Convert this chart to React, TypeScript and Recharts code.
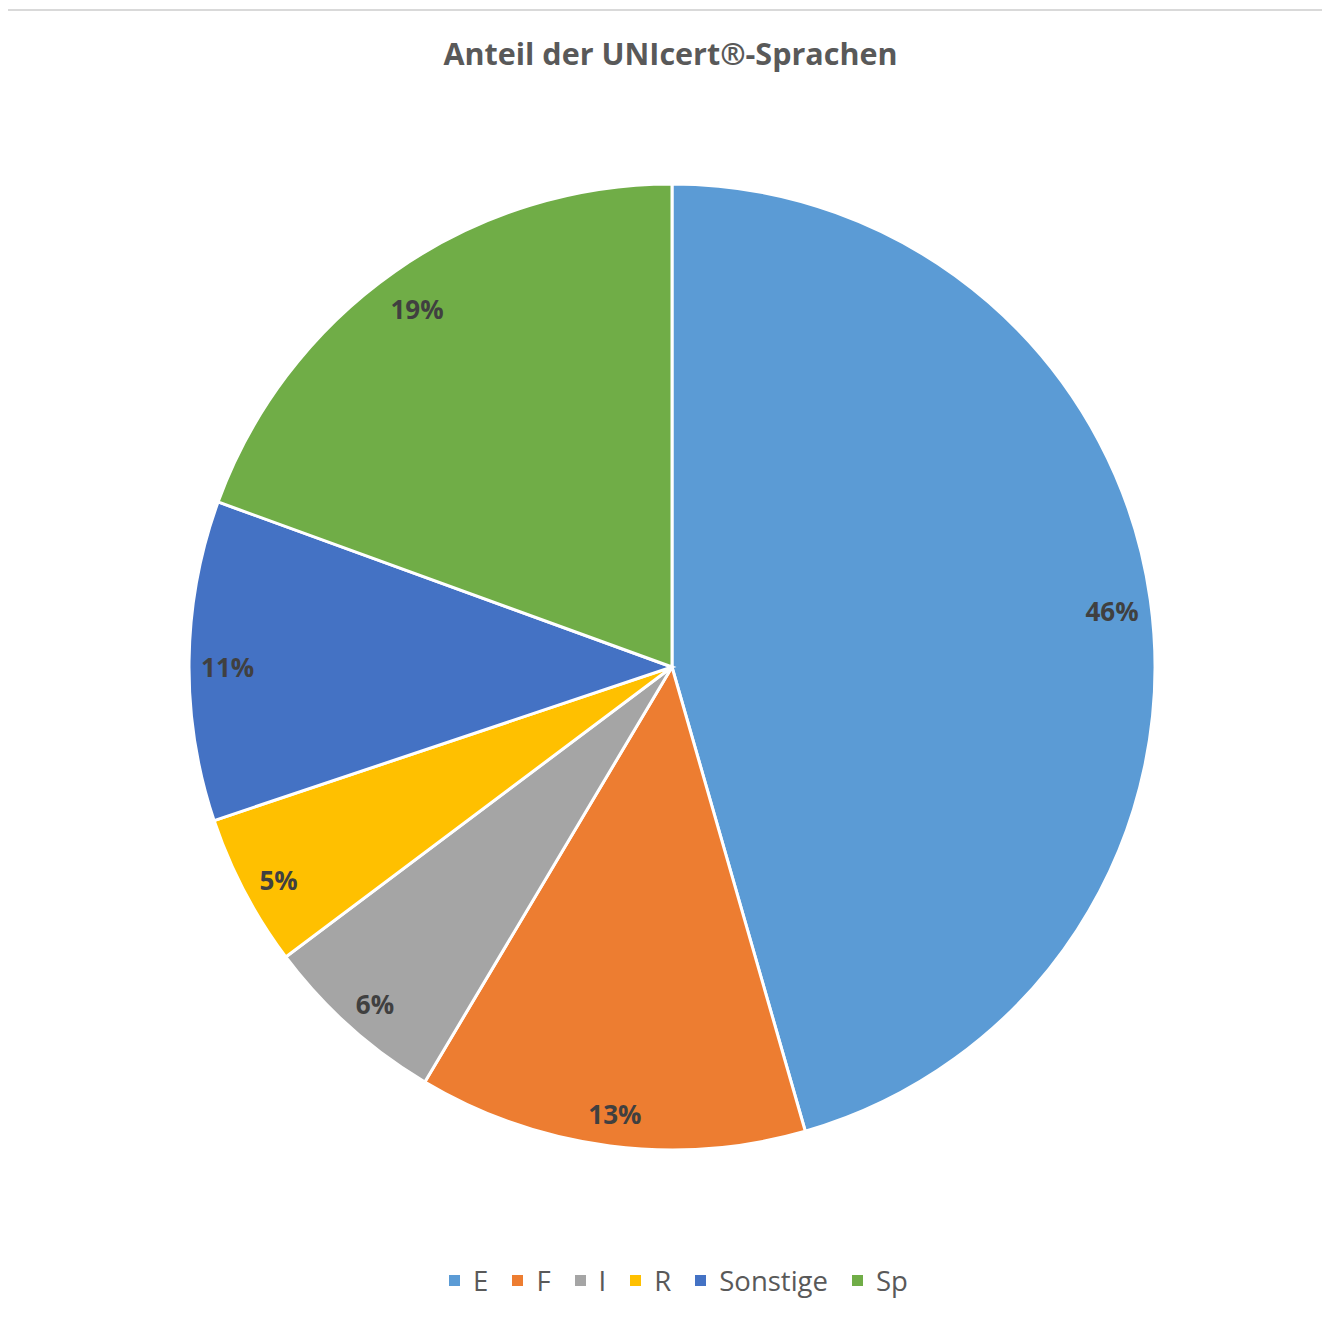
import React from 'react';
import { PieChart, Pie, Cell } from 'recharts';

const categories = ['E', 'F', 'I', 'R', 'Sonstige', 'Sp'];
const shares = [45.55, 13.0, 6.2, 5.1, 10.7, 19.45];
const colors = ['#5B9BD5', '#ED7D31', '#A5A5A5', '#FFC000', '#4472C4', '#70AD47'];
const title = 'Anteil der UNIcert®-Sprachen';

const data = categories.map((name, i) => ({ name, value: shares[i] }));

const FONT = '"Open Sans", "Liberation Sans", sans-serif';
const RADIAN = Math.PI / 180;

const renderLabel = (props: any) => {
  const { cx, cy, midAngle, outerRadius, percent } = props;
  const r = outerRadius * 0.92;
  const x = cx + r * Math.cos(-midAngle * RADIAN);
  const y = cy + r * Math.sin(-midAngle * RADIAN) + 6;
  return (
    <text
      x={x}
      y={y}
      textAnchor="middle"
      dominantBaseline="central"
      fill="#404040"
      fontFamily={FONT}
      fontWeight={700}
      fontSize={26}
    >
      {`${Math.round(percent * 100 + 1e-6)}%`}
    </text>
  );
};

export default function App() {
  return (
    <div
      style={{
        position: 'relative',
        marginLeft: -2,
        width: 1324,
        height: 1312,
        overflow: 'hidden',
        background: '#fff',
      }}
    >
      <div
        style={{
          position: 'absolute',
          left: 0,
          top: 1,
          width: 1400,
          height: 1400,
          borderLeft: '2px solid #d9d9d9',
          borderTop: '2px solid #d9d9d9',
        }}
      />
      <div
        style={{
          position: 'absolute',
          left: 0,
          width: 1329,
          top: 29.5,
          textAlign: 'center',
          fontFamily: FONT,
          fontWeight: 700,
          fontSize: 30.5,
          lineHeight: 1,
          color: '#595959',
          whiteSpace: 'nowrap',
        }}
      >
        {title}
      </div>
      <div style={{ position: 'absolute', left: 0, top: 0 }}>
        <PieChart width={1324} height={1250} margin={{ top: 0, right: 0, bottom: 0, left: 0 }}>
          <Pie
            data={data}
            dataKey="value"
            nameKey="name"
            cx={666}
            cy={659}
            outerRadius={483}
            startAngle={90}
            endAngle={-270}
            stroke="#ffffff"
            strokeWidth={3}
            label={renderLabel}
            labelLine={false}
            isAnimationActive={false}
          >
            {data.map((d, i) => (
              <Cell key={d.name} fill={colors[i]} />
            ))}
          </Pie>
        </PieChart>
      </div>
      <div
        style={{
          position: 'absolute',
          left: 0,
          width: 1345,
          top: 1259,
          display: 'flex',
          justifyContent: 'center',
          alignItems: 'center',
          gap: 24,
          fontFamily: FONT,
          fontSize: 27.5,
          lineHeight: 1,
          color: '#595959',
          whiteSpace: 'nowrap',
        }}
      >
        {categories.map((c, i) => (
          <div key={c} style={{ display: 'flex', alignItems: 'center' }}>
            <span
              style={{
                display: 'inline-block',
                width: 11,
                height: 11,
                background: colors[i],
                marginRight: 13,
              }}
            />
            <span>{c}</span>
          </div>
        ))}
      </div>
    </div>
  );
}
